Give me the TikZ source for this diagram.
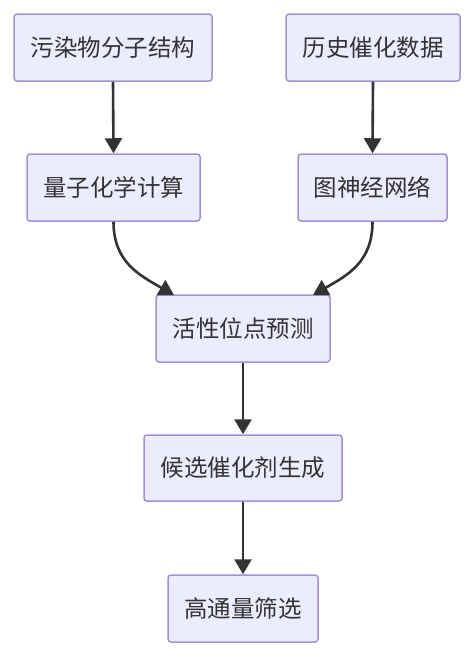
\documentclass[tikz,border=0pt]{standalone}
\usepackage{fontspec}
\newfontfamily\cjk{Noto Sans CJK SC}
\usetikzlibrary{arrows.meta}
\definecolor{boxfill}{HTML}{ECECFF}
\definecolor{boxdraw}{HTML}{A48FDC}
\definecolor{ink}{HTML}{333333}
\tikzset{
  x=1pt,y=1pt,
  flowbox/.style={draw=boxdraw,fill=boxfill,line width=1.5pt,rounded corners=3pt,
    inner sep=0pt,text=ink,font=\cjk\fontsize{23.5}{28}\selectfont},
  flowarrow/.style={draw=ink,line width=2.6pt,-{Triangle[length=15pt,width=17pt]}}
}
\begin{document}
\begin{tikzpicture}
\useasboundingbox (0,0) rectangle (468,-659);
\fill[white] (0,0) rectangle (468,-659);
\node[flowbox,minimum width=198pt,minimum height=67pt] (a) at (113,-47.5) {污染物分子结构};
\node[flowbox,minimum width=174pt,minimum height=67pt] (b) at (373,-47.5) {历史催化数据};
\node[flowbox,minimum width=173pt,minimum height=67pt] (c) at (113.5,-187.5) {量子化学计算};
\node[flowbox,minimum width=149pt,minimum height=67pt] (d) at (372.5,-187.5) {图神经网络};
\node[flowbox,minimum width=174pt,minimum height=67pt] (e) at (243,-328.5) {活性位点预测};
\node[flowbox,minimum width=198pt,minimum height=66pt] (f) at (243,-468) {候选催化剂生成};
\node[flowbox,minimum width=150pt,minimum height=67pt] (g) at (243,-608.5) {高通量筛选};
\coordinate (eL) at (174,-295);
\coordinate (eR) at (313,-295);
\draw[flowarrow] (a.south) -- (c.north);
\draw[flowarrow] (b.south) -- (d.north);
\draw[flowarrow] (c.south) .. controls ++(0,-40) and ++(-35,20) .. (eL);
\draw[flowarrow] (d.south) .. controls ++(0,-40) and ++(35,20) .. (eR);
\draw[flowarrow] (e.south) -- (f.north);
\draw[flowarrow] (f.south) -- (g.north);
\end{tikzpicture}
\end{document}
